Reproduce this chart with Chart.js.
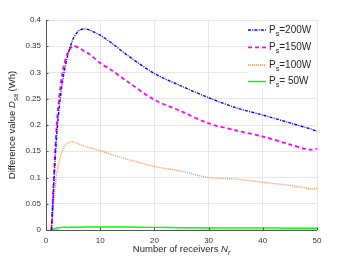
<!DOCTYPE html>
<html>
<head>
<meta charset="utf-8">
<script src="https://cdn.jsdelivr.net/npm/chart.js@4"></script>
<style>
html,body{margin:0;padding:0;background:#fff;}
#wrap{width:350px;height:263px;position:relative;}
</style>
</head>
<body>
<div id="wrap"><canvas id="c" width="350" height="263"></canvas></div>
<script>
const receivers = [1,2,3,4,5,6,7,8,10,12,15,20,25,30,35,40,45,48,49,50];
const ps200 = [0,0.185,0.280,0.332,0.364,0.379,0.383,0.381,0.371,0.357,0.333,0.298,0.274,0.252,0.233,0.219,0.204,0.195,0.192,0.188];
const ps150 = [0,0.205,0.298,0.338,0.351,0.347,0.341,0.335,0.318,0.305,0.283,0.248,0.226,0.203,0.190,0.178,0.163,0.154,0.153,0.155];
const ps100 = [0,0.108,0.152,0.166,0.168,0.164,0.160,0.157,0.151,0.144,0.135,0.121,0.112,0.100,0.097,0.091,0.085,0.080,0.078,0.080];
const ps50  = [0,0.004,0.005,0.005,0.0052,0.0054,0.0055,0.0055,0.0055,0.0055,0.0055,0.005,0.0045,0.004,0.004,0.004,0.0035,0.0035,0.0035,0.0035];
const seriesLabels = ['200W','150W','100W',' 50W'];
const xTicks = [0,10,20,30,40,50];
const yTickLabels = ['0','0.05','0.1','0.15','0.2','0.25','0.3','0.35','0.4'];

const FONT = "'Liberation Sans', Arial, Helvetica, sans-serif";
const pts = arr => arr.map((v,i)=>({x:receivers[i], y:v}));

const styles = [
  {color:'#0000FF', width:1.4, dash:[3,1.2,1,1.2]},
  {color:'#FF00FF', width:1.8, dash:[4,3]},
  {color:'#FF8C55', width:1.3, dash:[1,1]},
  {color:'#00FF00', width:1.5, dash:[]}
];
const values = [ps200, ps150, ps100, ps50];

function drawRich(ctx, parts, x, y, size, align){
  let total = 0;
  const m = parts.map(p=>{
    const s = p.sub ? size*0.72 : size;
    ctx.font = (p.italic?'italic ':'') + s + 'px ' + FONT;
    const w = ctx.measureText(p.t).width;
    total += w;
    return {p, s, w};
  });
  let cx = align==='center' ? x - total/2 : x;
  ctx.textBaseline = 'middle';
  ctx.textAlign = 'left';
  m.forEach(o=>{
    ctx.font = (o.p.italic?'italic ':'') + o.s + 'px ' + FONT;
    ctx.fillText(o.p.t, cx, y + (o.p.sub ? size*0.38 : 0));
    cx += o.w;
  });
}

const decor = {
  id:'decor',
  afterDraw(chart){
    const ctx = chart.ctx;
    const a = chart.chartArea;
    ctx.save();
    ctx.strokeStyle = '#555';
    ctx.lineWidth = 1;
    ctx.setLineDash([]);
    ctx.beginPath();
    ctx.moveTo(a.left+0.5, a.top);
    ctx.lineTo(a.left+0.5, a.bottom+0.5);
    ctx.lineTo(a.right, a.bottom+0.5);
    ctx.stroke();
    const xs = chart.scales.x, ys = chart.scales.y;
    ctx.beginPath();
    xTicks.forEach(t=>{const px=Math.round(xs.getPixelForValue(t))+0.5; ctx.moveTo(px,a.bottom); ctx.lineTo(px,a.bottom-2.5);});
    yTickLabels.forEach(t=>{const py=Math.round(ys.getPixelForValue(parseFloat(t)))+0.5; ctx.moveTo(a.left,py); ctx.lineTo(a.left+2.5,py);});
    ctx.stroke();

    ctx.fillStyle = '#262626';
    drawRich(ctx, [{t:'Number of receivers '},{t:'N',italic:true},{t:'r',italic:true,sub:true}], (a.left+a.right)/2, 249, 9.5, 'center');
    ctx.save();
    ctx.translate(12, (a.top+a.bottom)/2);
    ctx.rotate(-Math.PI/2);
    drawRich(ctx, [{t:'Difference value '},{t:'D',italic:true},{t:'sa',italic:true,sub:true},{t:' (Wh)'}], 0, 0, 9.5, 'center');
    ctx.restore();

    const lx = 247, ly = 22, lw = a.right - lx, lh = 68;
    ctx.fillStyle = '#fff';
    ctx.fillRect(lx, ly, lw, lh);
    const rows = [30, 47.3, 65, 81.5];
    styles.forEach((s,i)=>{
      ctx.strokeStyle = s.color;
      ctx.lineWidth = s.width;
      ctx.setLineDash(s.dash);
      ctx.beginPath();
      ctx.moveTo(248, rows[i]);
      ctx.lineTo(266, rows[i]);
      ctx.stroke();
      ctx.setLineDash([]);
      ctx.fillStyle = '#262626';
      drawRich(ctx, [{t:'P'},{t:'s',sub:true},{t:'='+seriesLabels[i]}], 269, rows[i], 10, 'left');
    });
    ctx.restore();
  }
};

new Chart(document.getElementById('c'), {
  type:'line',
  data:{
    datasets: values.map((v,i)=>({
      label:'Ps='+seriesLabels[i],
      data:pts(v),
      borderColor:styles[i].color,
      borderWidth:styles[i].width,
      borderDash:styles[i].dash,
      pointRadius:0,
      fill:false,
      tension:0.3
    }))
  },
  options:{
    responsive:false,
    animation:false,
    layout:{padding:{left:0,right:33,top:20,bottom:0}},
    plugins:{legend:{display:false},tooltip:{enabled:false}},
    scales:{
      x:{
        type:'linear', min:0, max:50,
        afterBuildTicks(s){ s.ticks = xTicks.map(v=>({value:v})); },
        afterFit(s){ s.height = 33; },
        grid:{color:'#e6e6e6', drawTicks:false, lineWidth:1},
        border:{display:false},
        ticks:{padding:6, color:'#333', font:{family:FONT,size:8}, maxRotation:0, callback:v=>String(v)}
      },
      y:{
        type:'linear', min:0, max:0.4,
        afterBuildTicks(s){ s.ticks = yTickLabels.map(v=>({value:parseFloat(v)})); },
        afterFit(s){ s.width = 46; },
        grid:{color:'#e6e6e6', drawTicks:false, lineWidth:1},
        border:{display:false},
        ticks:{padding:5, color:'#333', font:{family:FONT,size:8}, callback:(v,i)=>yTickLabels[i]}
      }
    }
  },
  plugins:[decor]
});
</script>
</body>
</html>
